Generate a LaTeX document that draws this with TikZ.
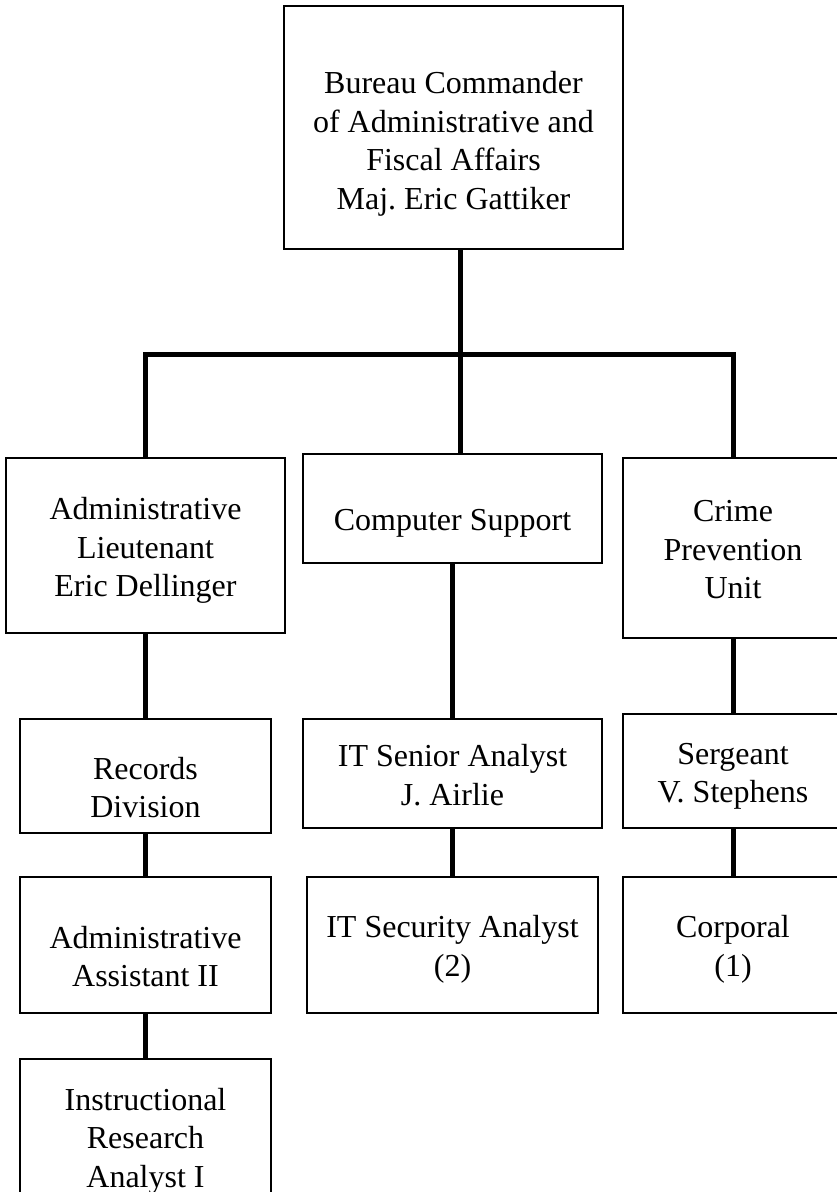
\documentclass[tikz,border=0pt]{standalone}
\usepackage{fontspec}
\setmainfont{Liberation Serif}
\frenchspacing
\newcommand{\fl}[1]{\rule{0pt}{\dimexpr 22pt+#1pt\relax}}
\begin{document}
\begin{tikzpicture}[x=1pt,y=-1pt,
  box/.style={draw=black, line width=1.2pt, rectangle, inner sep=0pt, align=center,
    font=\fontsize{32}{38.5}\selectfont},
  conn/.style={draw=black, line width=5pt, line join=miter}]
\useasboundingbox (0,0) rectangle (837,1192);
\node[box, minimum width=339pt, minimum height=243pt] (top) at (453.5,127.5)
  {\fl{33}Bureau Commander\\of Administrative and\\Fiscal Affairs\\Maj.\ Eric Gattiker};
\node[box, minimum width=279pt, minimum height=175pt] (adminlt) at (145.5,545.5)
  {\fl{10}Administrative\\Lieutenant\\Eric Dellinger};
\node[box, minimum width=299pt, minimum height=109pt] (comp) at (452.5,508.5)
  {\fl{29}Computer Support};
\node[box, minimum width=220pt, minimum height=180pt] (crime) at (733,548)
  {\fl{3}Crime\\Prevention\\Unit};
\node[box, minimum width=251pt, minimum height=114pt] (records) at (145.5,776)
  {\fl{23}Records\\Division};
\node[box, minimum width=251pt, minimum height=136pt] (asst) at (145.5,945)
  {\fl{23}Administrative\\Assistant II};
\node[box, minimum width=251pt, minimum height=164pt] (instr) at (145.5,1141)
  {\fl{0}Instructional\\Research\\Analyst I};
\node[box, minimum width=299pt, minimum height=109pt] (itsen) at (452.5,773.5)
  {\fl{3}IT Senior Analyst\\J. Airlie};
\node[box, minimum width=291pt, minimum height=136pt] (itsec) at (452.5,945)
  {\fl{9}IT Security Analyst\\(2)};
\node[box, minimum width=220pt, minimum height=114pt] (sgt) at (733,771)
  {\fl{10}Sergeant\\V. Stephens};
\node[box, minimum width=220pt, minimum height=136pt] (cpl) at (733,945)
  {\fl{9}Corporal\\(1)};
\coordinate (jm) at (460,354);
\coordinate (jr) at (733,354);
\draw[conn] (top.south -| jm) -- (jm);
\draw[conn] (adminlt.north) |- (jr) -- (crime.north);
\draw[conn] (jm) -- (jm |- comp.north);
\draw[conn] (adminlt.south) -- (records.north);
\draw[conn] (records.south) -- (asst.north);
\draw[conn] (asst.south) -- (instr.north);
\draw[conn] (comp.south) -- (itsen.north);
\draw[conn] (itsen.south) -- (itsec.north);
\draw[conn] (crime.south) -- (sgt.north);
\draw[conn] (sgt.south) -- (cpl.north);
\end{tikzpicture}
\end{document}
